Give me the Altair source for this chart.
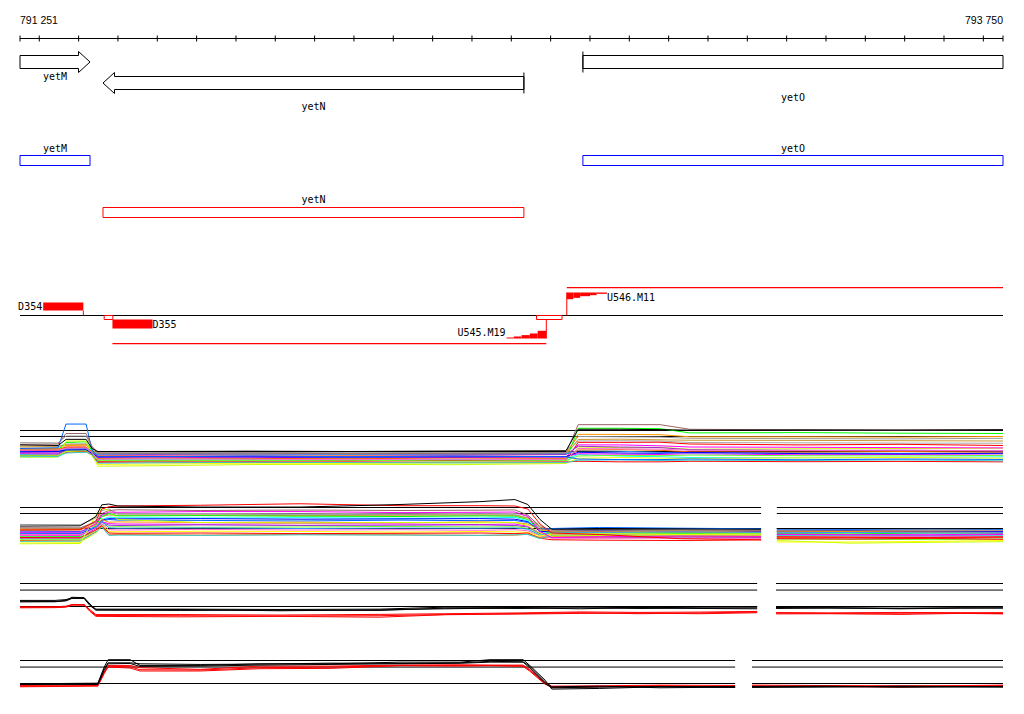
import altair as alt
import pandas as pd

# ------------------------------------------------------------------ data
WIN_START, WIN_END = 791251, 793750
RULER_TICKS = [791251, 791300, 791400, 791500, 791600, 791700, 791800, 791900,
               792000, 792100, 792200, 792300, 792400, 792500, 792600, 792700,
               792800, 792900, 793000, 793100, 793200, 793300, 793400, 793500,
               793600, 793700, 793750]
RULER_LABELS = ["791 251", "793 750"]

GENE_NAMES = ["yetM", "yetN", "yetO"]
GENE_START = [791120, 791462, 792682]
GENE_END = [791429, 792532, 794150]
GENE_STRAND = ["+", "-", "+"]

PRIMER_NAMES = ["D354", "D355", "U545.M19", "U546.M11"]
PRIMER_START = [791310, 791486, 792488, 792641]
PRIMER_END = [791412, 791588, 792589, 792743]
U545_STEPS = [792488, 792506, 792526, 792547, 792567, 792589]
U545_SCORE = [0.13, 0.26, 0.44, 0.65, 1.0]
U546_STEPS = [792641, 792658, 792675, 792700, 792717, 792743]
U546_SCORE = [1.0, 0.8, 0.55, 0.4, 0.2]
SITE_BOXES = [(791465, 791487), (792564, 792629)]
PRODUCT_LINES = [(791486, 792589), (792641, 793750)]

REF_LEVELS = [0, 10, 14]

# panel 1 (single tile)
P1_SEGS = [(791251, 793750)]
P1_POS = [791251, 791348, 791368, 791419, 791434, 791449, 791581, 791836, 792090,
          792344, 792639, 792670, 792776, 792878, 792954, 793234, 793488, 793750]
P1_SERIES = [
    ("#999999", [5.9, 5.7, 10.3, 10.3, 3.0, -0.5, -0.6, -0.8, -0.5, -0.8, -0.6, 10.0, 9.8, 9.6, 8.8, 8.6, 8.4, 8.8]),
    ("#aaaaaa", [3.0, 3.2, 5.0, 5.2, 1.5, -1.4, -1.2, -1.4, -1.0, -1.4, -1.2, 7.0, 7.2, 7.0, 6.0, 5.8, 5.6, 5.5]),
    ("#cc9933", [3.6, 3.4, 4.5, 4.6, 1.0, -1.6, -2.0, -1.8, -1.4, -2.0, -1.8, 8.0, 8.2, 7.8, 7.5, 7.4, 7.2, 7.0]),
    ("#ff9900", [2.2, 2.0, 4.0, 4.2, 0.5, -2.8, -2.5, -2.2, -2.6, -2.4, -2.0, 11.4, 11.4, 11.2, 9.8, 9.8, 9.6, 10.0]),
    ("#00ff00", [1.0, 1.2, 6.0, 6.5, 0.5, -5.5, -5.8, -5.5, -6.0, -5.6, -5.8, 15.5, 15.5, 15.2, 12.4, 12.6, 12.2, 12.0]),
    ("#ccff00", [-3.8, -3.8, 7.0, 7.0, -2.0, -9.8, -9.5, -8.7, -8.5, -8.8, -8.0, 3.0, 2.6, 2.8, 1.5, 1.8, 2.0, 2.2]),
    ("#ff0000", [0.5, 0.8, 3.0, 3.0, -1.0, -6.5, -6.3, -6.5, -6.2, -6.0, -6.2, 6.1, 6.1, 6.2, 5.0, 4.4, 4.8, 4.0]),
    ("#ff00ff", [-0.5, -0.3, 2.0, 2.2, -1.0, -4.0, -4.2, -3.8, -4.4, -4.0, -3.8, 4.4, 4.4, 3.8, 3.0, 2.8, 2.6, 2.4]),
    ("#00ffff", [-2.0, -1.8, 1.5, 2.0, 1.0, -5.0, -5.2, -4.8, -5.0, -5.4, -5.0, -2.0, -3.0, -3.5, -4.0, -4.2, -4.0, -3.6]),
    ("#ff00ff", [-1.5, -1.6, 0.5, 0.8, -2.0, -3.2, -3.0, -3.4, -3.2, -3.0, -3.3, -1.5, -1.8, -2.0, -1.5, -2.2, -2.0, -2.4]),
    ("#9933cc", [-1.0, -1.0, 1.0, 1.2, -1.5, -2.2, -2.0, -2.4, -2.0, -2.2, -2.0, 3.5, 3.0, 2.6, 1.2, 0.8, 0.6, 0.4]),
    ("#3399ff", [0.0, 0.2, 1.8, 2.0, -0.5, -1.8, -1.5, -1.6, -2.0, -1.6, -1.4, 0.5, 0.2, -0.6, -1.0, -0.8, -1.2, -1.0]),
    ("#ff0000", [-2.6, -2.5, -0.5, 0.0, -2.5, -7.2, -7.0, -7.4, -7.0, -7.2, -7.0, -6.5, -6.9, -6.9, -6.5, -6.8, -6.6, -6.9]),
    ("#ffff00", [-3.2, -3.0, 0.0, 0.5, -3.0, -8.6, -8.4, -7.8, -8.0, -7.6, -7.8, -4.5, -4.0, -4.4, -4.6, -4.2, -4.0, -4.4]),
    ("#ff6600", [1.5, 1.6, 2.5, 2.8, 0.0, -4.6, -4.4, -4.6, -4.8, -4.4, -4.6, 1.0, 1.2, 0.8, -0.2, -0.4, 0.0, -0.5]),
    ("#66ff33", [-2.8, -3.0, 0.5, 1.0, -1.0, -6.0, -6.2, -6.0, -5.8, -6.4, -6.0, -3.0, -2.6, -2.8, -2.4, -2.8, -3.0, -2.6]),
    ("#0000ff", [-0.2, 0.0, 1.0, 1.2, -1.2, -3.6, -3.4, -3.6, -3.8, -3.6, -3.4, -0.5, -1.0, -1.2, -0.6, -1.4, -1.6, -1.2]),
    ("#ff66cc", [0.8, 1.0, 2.2, 2.4, -0.8, -5.2, -5.0, -5.2, -5.4, -5.2, -5.4, 2.0, 1.8, 1.6, 0.8, 0.6, 1.0, 0.4]),
    ("#33cccc", [-3.5, -3.4, -1.0, -0.5, -2.0, -7.8, -7.6, -7.2, -7.4, -7.6, -7.4, -5.8, -5.6, -6.0, -5.8, -6.0, -5.6, -6.2]),
    ("#0066ff", [2.0, 2.5, 18.3, 18.3, 1.0, -3.5, -3.5, -3.0, -3.5, -3.0, -3.5, -5.0, -5.4, -5.4, -5.0, -5.5, -5.0, -5.3]),
    ("#996666", [4.8, 5.0, 12.0, 12.0, 3.5, -1.0, -1.2, -1.0, -1.5, -1.2, -1.0, 17.9, 17.9, 17.9, 14.8, 14.4, 14.3, 14.6]),
    ("#000000", [4.4, 4.0, 8.1, 8.1, 2.0, 0.0, 0.0, 0.2, 0.0, 0.3, 0.5, 14.8, 14.8, 14.6, 14.2, 14.4, 14.3, 14.5]),
]

# panel 2 (two tiles)
P2_SEGS = [(791251, 793135), (793175, 793750)]
P2_POS = [[791251, 791404, 791444, 791459, 791477, 791500, 791709, 791963, 792217,
           792420, 792509, 792542, 792573, 792603, 792725, 792929, 793135],
          [793175, 793361, 793564, 793750]]
P2_SERIES = [
    ("#999999", [2.7, 2.5, 7.0, 12.0, 13.0, 9.6, 9.6, 9.2, 9.4, 9.0, 9.2, 7.0, 0.0, -1.5, -1.2, -1.4, -1.0], [-0.8, -1.0, -1.2, -0.6]),
    ("#aaaaaa", [0.0, 0.2, 5.0, 9.0, 10.0, 9.9, 10.0, 9.8, 10.2, 9.9, 10.0, 8.5, 2.0, -1.8, -1.6, -2.0, -1.8], [-1.4, -1.6, -1.2, -1.8]),
    ("#996666", [0.5, 0.4, 4.0, 10.0, 12.0, 12.5, 12.0, 12.3, 12.0, 12.2, 12.4, 9.0, 1.0, -1.0, -1.2, -1.0, -1.4], [-1.6, -1.4, -1.8, -1.6]),
    ("#cc9933", [-1.2, -1.0, 3.0, 8.0, 9.0, 8.8, 9.0, 8.6, 8.8, 9.0, 8.8, 7.0, 1.0, -2.8, -3.0, -2.6, -2.8], [-2.4, -2.6, -2.2, -2.4]),
    ("#00ff00", [-5.5, -5.4, 2.0, 8.0, 10.0, 8.4, 8.6, 8.2, 8.0, 8.4, 8.2, 6.0, -1.0, -3.6, -3.8, -3.4, -3.6], [-3.4, -3.6, -3.0, -3.2]),
    ("#00ffff", [-3.5, -3.6, 1.0, 6.0, 7.6, 7.2, 7.0, 7.2, 6.8, 7.0, 7.4, 5.0, -1.5, -4.8, -5.0, -5.2, -4.8], [-5.0, -4.8, -5.2, -5.0]),
    ("#0000ff", [-3.0, -3.2, 0.5, 5.5, 6.6, 6.4, 6.6, 6.2, 6.4, 6.6, 6.2, 4.5, -2.0, -2.0, -1.8, -2.2, -2.0], [-2.0, -1.8, -2.2, -2.0]),
    ("#0066ff", [-1.8, -2.0, 1.0, 5.0, 6.0, 5.6, 5.4, 5.0, 5.6, 5.2, 5.4, 4.0, -0.5, 0.0, 0.7, 0.2, -0.2], [-0.4, -0.6, -0.2, -0.5]),
    ("#ff9900", [-0.5, -0.4, 2.0, 6.0, 4.2, 4.4, 4.0, 4.2, 3.8, 4.4, 4.0, 3.0, -0.8, -2.0, -2.2, -1.8, -2.4], [-2.2, -2.0, -2.4, -2.6]),
    ("#ff00ff", [-4.5, -4.6, 0.5, 4.5, 3.2, 3.0, 2.8, 3.2, 3.0, 2.6, 3.0, 1.5, -3.0, -4.0, -4.2, -4.0, -4.4], [-3.8, -4.0, -4.2, -3.6]),
    ("#9933cc", [-6.5, -6.4, 0.0, 4.0, 2.2, 2.0, 2.4, 2.0, 2.2, 2.4, 2.0, 1.0, -3.5, -6.0, -5.8, -6.2, -6.0], [-6.4, -6.2, -6.6, -6.0]),
    ("#66ff33", [-7.5, -7.4, -1.0, 3.0, 1.0, 1.2, 0.8, 1.0, 1.4, 1.0, 1.2, 0.0, -4.0, -3.0, -2.8, -3.0, -3.2], [-7.0, -7.2, -7.4, -7.0]),
    ("#3399ff", [-2.8, -3.0, 1.0, 5.0, 0.4, 0.2, 0.4, 0.0, 0.3, 0.2, 0.4, -0.5, -4.5, -2.4, -2.6, -2.2, -2.6], [-2.8, -2.6, -3.0, -2.8]),
    ("#ff66cc", [-4.0, -4.0, 0.0, 3.0, -0.8, -1.0, -0.6, -1.0, -0.8, -1.2, -0.8, -1.5, -5.0, -6.5, -6.6, -6.4, -6.6], [-5.2, -5.0, -5.4, -5.2]),
    ("#ffff00", [-9.0, -9.2, -3.0, 2.0, -2.0, -2.2, -1.8, -2.0, -2.4, -2.0, -2.2, -2.6, -5.0, -3.8, -3.6, -4.0, -3.8], [-9.0, -9.0, -8.6, -8.0]),
    ("#ff0000", [-6.0, -6.2, -1.0, 2.0, -3.0, -3.2, -3.0, -3.4, -3.2, -3.0, -3.4, -3.0, -6.5, -7.5, -7.8, -8.0, -7.6], [-6.8, -7.0, -6.6, -7.2]),
    ("#ff6600", [-8.0, -8.2, -2.0, 1.5, -4.2, -4.0, -4.4, -4.0, -4.2, -4.6, -4.4, -3.8, -6.0, -5.4, -5.6, -5.2, -5.4], [-6.0, -5.8, -6.2, -5.8]),
    ("#33cccc", [-8.6, -8.4, -2.5, 1.0, -4.6, -4.4, -4.6, -4.2, -4.4, -4.6, -4.2, -4.0, -6.8, -4.6, -4.4, -4.8, -4.6], [-4.6, -4.4, -4.8, -4.4]),
    ("#ccff00", [-10.2, -10.0, 9.0, 13.5, 12.0, 6.0, 4.0, 3.6, 4.0, 3.8, 4.0, 2.0, -3.0, -5.0, -4.6, -4.4, -4.6], [-8.0, -9.8, -9.2, -8.8]),
    ("#ff00ff", [-2.5, -2.4, 3.0, 9.0, 11.0, 10.8, 11.3, 11.3, 10.6, 10.8, 11.0, 8.0, -2.0, -6.0, -5.5, -5.0, -5.2], [-4.0, -4.2, -4.4, -4.0]),
    ("#ff0000", [-1.0, -0.8, 5.0, 13.0, 14.5, 15.0, 15.5, 16.5, 15.2, 15.2, 15.0, 13.0, 3.0, -3.0, -4.0, -6.8, -7.5], [-5.5, -5.8, -6.0, -5.6]),
    ("#000000", [1.6, 1.8, 8.0, 15.8, 16.3, 15.0, 14.3, 14.3, 16.0, 17.9, 19.3, 16.0, 6.0, -0.5, -0.5, -0.4, -0.5], [0.0, 0.0, -0.2, 0.0]),
]

# panel 3 (two tiles)
P3_SEGS = [(791251, 793125), (793173, 793750)]
P3_POS = [[791251, 791340, 791368, 791383, 791414, 791429, 791444, 791658, 791912,
           792166, 792331, 792522, 792675, 792827, 792980, 793125],
          [793173, 793310, 793488, 793641, 793750]]
P3_SERIES = [
    ("#ff0000", [-0.2, -0.2, 0.2, 1.2, 1.2, -2.0, -4.9, -4.9, -5.2, -4.8, -4.4, -3.9, -3.3, -3.6, -3.4, -3.0], [-3.7, -3.9, -3.6, -3.8, -3.7]),
    ("#ff0000", [-0.8, -0.7, -0.4, 0.8, 0.8, -3.0, -6.0, -6.3, -6.0, -6.5, -5.0, -4.6, -4.2, -4.0, -4.4, -3.8], [-4.5, -4.4, -4.8, -4.2, -4.5]),
    ("#ff0000", [-0.5, -0.4, 0.0, 1.0, 1.0, -2.5, -5.5, -5.6, -5.8, -5.6, -4.9, -4.3, -3.8, -4.4, -3.9, -3.4], [-4.0, -4.2, -4.1, -4.0, -4.3]),
    ("#000000", [3.7, 3.7, 4.2, 5.2, 5.2, 1.0, -1.6, -1.6, -1.8, -1.6, -0.4, -0.6, -0.2, -0.8, -0.4, -0.2], [-0.2, -0.4, -0.2, -0.4, -0.2]),
    ("#000000", [2.8, 2.9, 3.4, 4.9, 4.9, 0.5, -2.2, -2.4, -2.2, -2.4, -1.0, -1.2, -0.8, -1.2, -1.0, -0.8], [-1.2, -1.0, -1.2, -0.9, -1.0]),
    ("#000000", [3.2, 3.0, 3.8, 5.6, 5.4, 1.5, -2.0, -1.8, -2.6, -2.0, -1.4, -0.8, -1.4, -0.6, -1.2, -1.4], [-0.6, -0.8, -1.4, -1.0, -0.8]),
]

# panel 4 (two tiles)
P4_SEGS = [(791251, 793069), (793112, 793750)]
P4_POS = [[791251, 791353, 791449, 791465, 791475, 791531, 791556, 791709, 791861,
           792039, 792217, 792370, 792446, 792530, 792547, 792586, 792603, 792725,
           792878, 793069],
          [793112, 793285, 793488, 793750]]
P4_SERIES = [
    ("#ff0000", [-1.2, -1.0, -0.8, 7.0, 11.0, 11.0, 9.6, 8.6, 10.6, 10.6, 11.2, 11.4, 11.2, 11.2, 8.5, 0.5, -1.6, -1.4, -1.0, -1.2], [-1.0, -1.2, -1.6, -1.0]),
    ("#ff0000", [-2.0, -1.8, -1.6, 6.0, 10.0, 9.4, 7.6, 7.6, 9.0, 9.2, 10.8, 10.6, 10.8, 10.4, 7.5, -0.5, -2.2, -2.0, -1.6, -2.0], [-2.0, -1.6, -1.4, -1.8]),
    ("#ff0000", [-1.6, -1.5, -1.2, 6.5, 10.5, 10.2, 8.4, 8.2, 9.6, 10.0, 11.0, 11.0, 11.0, 10.8, 8.0, 0.0, -2.4, -1.8, -1.4, -2.2], [-1.4, -1.8, -2.2, -1.2]),
    ("#000000", [-0.2, 0.0, 0.2, 10.0, 14.5, 14.5, 11.0, 11.0, 12.0, 12.0, 13.0, 13.0, 14.5, 14.5, 11.0, 2.0, -3.4, -3.0, -2.0, -1.8], [-1.8, -1.6, -2.0, -2.2]),
    ("#000000", [-0.6, -0.5, -0.3, 9.0, 12.6, 12.6, 12.0, 11.6, 11.8, 12.4, 12.2, 12.6, 13.5, 13.2, 10.5, 1.0, -2.0, -1.6, -2.6, -2.2], [-2.4, -2.2, -1.6, -2.0]),
    ("#000000", [-0.3, -0.4, -0.6, 8.0, 12.0, 12.2, 10.4, 10.6, 11.2, 11.6, 12.0, 12.3, 13.0, 13.0, 9.5, 0.0, -2.6, -2.2, -1.8, -2.4], [-2.0, -1.9, -2.2, -1.8]),
]

# ------------------------------------------------------------------ layout / style
W, H = 1008, 698
X_RANGE = [12, 995]
BP_PER_PX = (WIN_END - WIN_START) / (X_RANGE[1] - X_RANGE[0])
FONT = "DejaVu Sans Mono"

XS = alt.Scale(domain=[WIN_START, WIN_END], range=X_RANGE, nice=False, zero=False)
PYS = alt.Scale(domain=[0, H], range=[0, H], nice=False, zero=False)


def X(f):
    return alt.X(f"{f}:Q", scale=XS, axis=None)


def PY(f):
    return alt.Y(f"{f}:Q", scale=PYS, axis=None)


layers = []

# ---- ruler
layers.append(alt.Chart(pd.DataFrame({"a": [WIN_START], "b": [WIN_END]})).mark_rule(
    color="black", strokeWidth=1).encode(x=X("a"), x2=alt.X2("b"), y=alt.value(30.5)))
layers.append(alt.Chart(pd.DataFrame({"p": RULER_TICKS})).mark_rule(
    color="black", strokeWidth=1).encode(x=X("p"), y=alt.value(27.5), y2=alt.value(33.5)))
for pos, txt, al in [(WIN_START, RULER_LABELS[0], "left"), (WIN_END, RULER_LABELS[1], "right")]:
    layers.append(alt.Chart(pd.DataFrame({"p": [pos], "t": [txt]})).mark_text(
        align=al, baseline="middle", font="Liberation Sans", fontSize=10.5, color="black"
    ).encode(x=X("p"), y=alt.value(12.5), text="t:N"))

# ---- gene arrows
HEAD_PX, BODY_HALF, HEAD_HALF = 11.5, 6.5, 10.5
GENE_ROW = {"yetM": 54, "yetN": 75, "yetO": 54}
GENE_LABEL_Y = {"yetM": 68.5, "yetN": 98.5, "yetO": 90}
BOX_ROW = {"yetM": (147.5, 157.5, 141), "yetN": (199.5, 209.5, 192), "yetO": (147.5, 157.5, 141)}
STRAND_COLOR = {"+": "#0000ff", "-": "#ff0000"}

hb = HEAD_PX * BP_PER_PX
poly, bars, glab, boxes, blab = [], [], [], [], []
for name, s, e, st in zip(GENE_NAMES, GENE_START, GENE_END, GENE_STRAND):
    c = GENE_ROW[name]
    t, b = c - BODY_HALF, c + BODY_HALF
    ht, hbm = c - HEAD_HALF, c + HEAD_HALF
    s_c, e_c = max(s, WIN_START), min(e, WIN_END)
    if st == "+":
        if e <= WIN_END:
            pts = [(s_c, t), (e - hb, t), (e - hb, ht), (e, c), (e - hb, hbm), (e - hb, b), (s_c, b), (s_c, t)]
        else:
            pts = [(s_c, t), (e_c, t), (e_c, b), (s_c, b), (s_c, t)]
        if s >= WIN_START:
            bars.append({"x": s, "y1": ht, "y2": hbm})
    else:
        if s >= WIN_START:
            pts = [(e_c, t), (s + hb, t), (s + hb, ht), (s, c), (s + hb, hbm), (s + hb, b), (e_c, b), (e_c, t)]
        else:
            pts = [(e_c, t), (s_c, t), (s_c, b), (e_c, b), (e_c, t)]
        if e <= WIN_END:
            bars.append({"x": e, "y1": ht, "y2": hbm})
    for i, (px, py) in enumerate(pts):
        poly.append({"g": name, "o": i, "x": px, "y": py})
    mid = (s_c + e_c) / 2
    glab.append({"x": mid, "y": GENE_LABEL_Y[name], "t": name})
    bt, bb, ly = BOX_ROW[name]
    boxes.append({"a": s_c, "b": e_c, "t": bt, "bt": bb, "c": STRAND_COLOR[st]})
    blab.append({"x": mid, "y": ly, "t": name})

layers.append(alt.Chart(pd.DataFrame(poly)).mark_line(color="black", strokeWidth=1).encode(
    x=X("x"), y=PY("y"), detail="g:N", order=alt.Order("o:Q")))
layers.append(alt.Chart(pd.DataFrame(bars)).mark_rule(color="black", strokeWidth=1).encode(
    x=X("x"), y=PY("y1"), y2=alt.Y2("y2")))
for df in (glab, blab):
    layers.append(alt.Chart(pd.DataFrame(df)).mark_text(
        align="center", baseline="middle", font=FONT, fontSize=10, color="black"
    ).encode(x=X("x"), y=PY("y"), text="t:N"))
layers.append(alt.Chart(pd.DataFrame(boxes)).mark_rect(filled=False, strokeWidth=1).encode(
    x=X("a"), x2=alt.X2("b"), y=PY("t"), y2=alt.Y2("bt"),
    color=alt.Color("c:N", scale=None, legend=None)))

# ---- primer / probe track
RED = "#ff0000"
BASE_Y = 307.5
layers.append(alt.Chart(pd.DataFrame({"a": [WIN_START], "b": [WIN_END]})).mark_rule(
    color="black", strokeWidth=1).encode(x=X("a"), x2=alt.X2("b"), y=alt.value(BASE_Y)))

filled = [
    {"a": PRIMER_START[0], "b": PRIMER_END[0], "t": 294.5, "bt": 302.5},
    {"a": PRIMER_START[1], "b": PRIMER_END[1], "t": 311.5, "bt": 320.5},
]
U545_BASE, U545_H = 330.5, 7.7
for i, sc in enumerate(U545_SCORE):
    filled.append({"a": U545_STEPS[i], "b": U545_STEPS[i + 1], "t": U545_BASE - sc * U545_H, "bt": U545_BASE})
U546_TOP, U546_H = 284.5, 6.7
for i, sc in enumerate(U546_SCORE):
    filled.append({"a": U546_STEPS[i], "b": U546_STEPS[i + 1], "t": U546_TOP, "bt": U546_TOP + sc * U546_H})
# product spans drawn as 1px-high filled strips
for (a, b), yy in zip(PRODUCT_LINES, [335.0, 279.0]):
    filled.append({"a": a, "b": b, "t": yy, "bt": yy + 1.2})
layers.append(alt.Chart(pd.DataFrame(filled)).mark_rect(color=RED, strokeWidth=0).encode(
    x=X("a"), x2=alt.X2("b"), y=PY("t"), y2=alt.Y2("bt")))

sites = [{"a": a, "b": b, "t": BASE_Y, "bt": BASE_Y + 4} for a, b in SITE_BOXES]
layers.append(alt.Chart(pd.DataFrame(sites)).mark_rect(filled=False, color=RED, strokeWidth=1).encode(
    x=X("a"), x2=alt.X2("b"), y=PY("t"), y2=alt.Y2("bt")))

vlines = [
    {"x": PRIMER_END[0], "y1": 302.5, "y2": BASE_Y},
    {"x": PRIMER_END[2], "y1": BASE_Y + 4, "y2": U545_BASE},
    {"x": PRIMER_START[3], "y1": U546_TOP, "y2": BASE_Y},
]
layers.append(alt.Chart(pd.DataFrame(vlines)).mark_rule(strokeWidth=1).encode(
    x=X("x"), y=PY("y1"), y2=alt.Y2("y2"), color=alt.value(RED)))

lab_r = [{"x": PRIMER_START[0], "y": 298.5, "t": PRIMER_NAMES[0]},
         {"x": PRIMER_START[2], "y": 324.5, "t": PRIMER_NAMES[2]}]
lab_l = [{"x": PRIMER_END[1], "y": 316.5, "t": PRIMER_NAMES[1]},
         {"x": PRIMER_END[3], "y": 289.5, "t": PRIMER_NAMES[3]}]
layers.append(alt.Chart(pd.DataFrame(lab_r)).mark_text(
    align="right", baseline="middle", font=FONT, fontSize=10, color="black", dx=-1
).encode(x=X("x"), y=PY("y"), text="t:N"))
layers.append(alt.Chart(pd.DataFrame(lab_l)).mark_text(
    align="left", baseline="middle", font=FONT, fontSize=10, color="black", dx=0
).encode(x=X("x"), y=PY("y"), text="t:N"))


# ---- expression panels
def panel(segs, pos_lists, series, y0, y14):
    ys = alt.Scale(domain=[0, 14], range=[y0, y14], nice=False, zero=False)
    refs = [{"a": a, "b": b, "v": lv} for a, b in segs for lv in REF_LEVELS]
    out = [alt.Chart(pd.DataFrame(refs)).mark_rule(color="black", strokeWidth=1).encode(
        x=X("a"), x2=alt.X2("b"), y=alt.Y("v:Q", scale=ys, axis=None))]
    rows = []
    for i, item in enumerate(series):
        col, seg_vals = item[0], item[1:]
        for k, vals in enumerate(seg_vals):
            for j, (p, v) in enumerate(zip(pos_lists[k], vals)):
                rows.append({"key": f"{i:02d}_{k}", "pos": p, "v": v, "c": col, "o": j})
    out.append(alt.Chart(pd.DataFrame(rows)).mark_line(strokeWidth=1).encode(
        x=X("pos"), y=alt.Y("v:Q", scale=ys, axis=None),
        color=alt.Color("c:N", scale=None, legend=None),
        detail="key:N", order=alt.Order("o:Q")))
    return out


layers += panel(P1_SEGS, [P1_POS], P1_SERIES, 443.5, 422.5)
layers += panel(P2_SEGS, P2_POS, P2_SERIES, 520.5, 499.5)
layers += panel(P3_SEGS, P3_POS, P3_SERIES, 598.5, 575.5)
layers += panel(P4_SEGS, P4_POS, P4_SERIES, 675.5, 652.5)

chart = alt.layer(*layers).resolve_scale(y="independent").properties(
    width=W, height=H, autosize=alt.AutoSizeParams(type="none"), padding=0
).configure_view(strokeWidth=0)

chart.save("out.html", embed_options={"renderer": "svg", "actions": False})
